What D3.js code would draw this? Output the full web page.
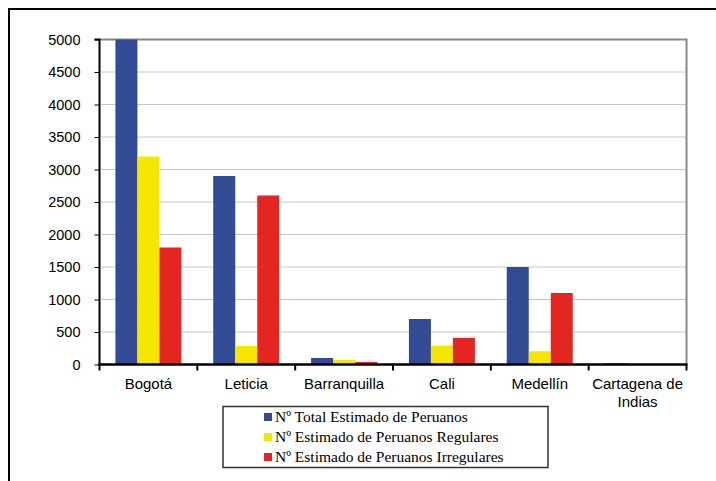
<!DOCTYPE html>
<html><head><meta charset="utf-8">
<script src="https://cdn.jsdelivr.net/npm/d3@7"></script>
<style>body{margin:0;background:#fff}svg{display:block}</style>
</head><body>
<svg id="c" width="716" height="481"></svg>
<script>
const categories = ["Bogotá","Leticia","Barranquilla","Cali","Medellín","Cartagena de Indias"];
const seriesNames = ["Nº Total Estimado de Peruanos","Nº Estimado de Peruanos Regulares","Nº Estimado de Peruanos Irregulares"];
const totalValues = [5000, 2900, 100, 700, 1500, 20];
const regularValues = [3200, 285, 70, 290, 205, 0];
const irregularValues = [1800, 2600, 40, 410, 1100, 0];
const colors = ["#334a94","#f5e600","#e42622"];
const yTicks = [0,500,1000,1500,2000,2500,3000,3500,4000,4500,5000];

const svg = d3.select("#c");
const L = 99.5, R = 686.5, T = 39.5, B = 364.5;
// outer frame
svg.append("path").attr("d","M9,481 V9 H716").attr("fill","none").attr("stroke","#000").attr("stroke-width",2);

const x = d3.scaleBand().domain(categories).range([L,R]);
const y = d3.scaleLinear().domain([0,5000]).range([B,T]);
const inner = d3.scaleBand().domain([0,1,2]).range([0, 66]);

// gridlines
svg.append("g").selectAll("line").data(yTicks.filter(d=>d>0 && d<5000)).join("line")
  .attr("x1",L).attr("x2",R).attr("y1",d=>y(d)).attr("y2",d=>y(d))
  .attr("stroke","#c8c8c8").attr("stroke-width",1);
// plot top/right border
svg.append("path").attr("d",`M${L},${T} H${R} V${B}`).attr("fill","none").attr("stroke","#888").attr("stroke-width",2);

const series = [totalValues, regularValues, irregularValues];
series.forEach((vals,si)=>{
  svg.append("g").selectAll("rect").data(vals).join("rect")
    .attr("x",(d,i)=>x(categories[i]) + (x.bandwidth()-66)/2 + inner(si))
    .attr("width",inner.bandwidth())
    .attr("y",d=>y(d)).attr("height",d=>B-y(d))
    .attr("fill",colors[si]);
});

// y axis
const yAxis = svg.append("g").attr("transform",`translate(${L},0)`)
  .call(d3.axisLeft(y).tickValues(yTicks).tickSize(5).tickPadding(14).tickFormat(d3.format("d")));
yAxis.select(".domain").attr("stroke","#000").attr("stroke-width",2).attr("d",`M-5,${T}H0V${B}`);
yAxis.selectAll(".tick line").attr("stroke","#000");
yAxis.selectAll("text").attr("font-family","Liberation Sans, Arial").attr("font-size",14.5).attr("fill","#000");

// x axis
const xg = svg.append("g").attr("transform",`translate(0,${B})`);
xg.append("line").attr("x1",L-1).attr("x2",R+1).attr("stroke","#000").attr("stroke-width",2.5);
const bounds = categories.map(c=>x(c)).concat([R]);
xg.selectAll("line.t").data(bounds).join("line").attr("class","t")
  .attr("x1",d=>d).attr("x2",d=>d).attr("y1",0).attr("y2",6).attr("stroke","#000").attr("stroke-width",2);
xg.selectAll("text").data(categories).join("text")
  .attr("x",d=>x(d)+x.bandwidth()/2).attr("y",24)
  .attr("text-anchor","middle").attr("font-family","Liberation Sans, Arial").attr("font-size",15).attr("fill","#000")
  .each(function(d){
    const el = d3.select(this);
    const words = d === "Cartagena de Indias" ? ["Cartagena de","Indias"] : [d];
    words.forEach((w,i)=> el.append("tspan").attr("x",x(d)+x.bandwidth()/2).attr("dy", i===0?0:18).text(w));
  });

// legend
const lg = svg.append("g");
lg.append("rect").attr("x",223).attr("y",406.5).attr("width",325).attr("height",61)
  .attr("fill","#fff").attr("stroke","#333").attr("stroke-width",1.5);
seriesNames.forEach((n,i)=>{
  lg.append("rect").attr("x",264).attr("y",413+i*20).attr("width",8).attr("height",8).attr("fill",colors[i]);
  lg.append("text").attr("x",275).attr("y",422+i*20).attr("font-family","Liberation Serif, Times New Roman, serif")
    .attr("font-size",15.5).attr("fill","#000").text(n);
});
</script>
</body></html>
